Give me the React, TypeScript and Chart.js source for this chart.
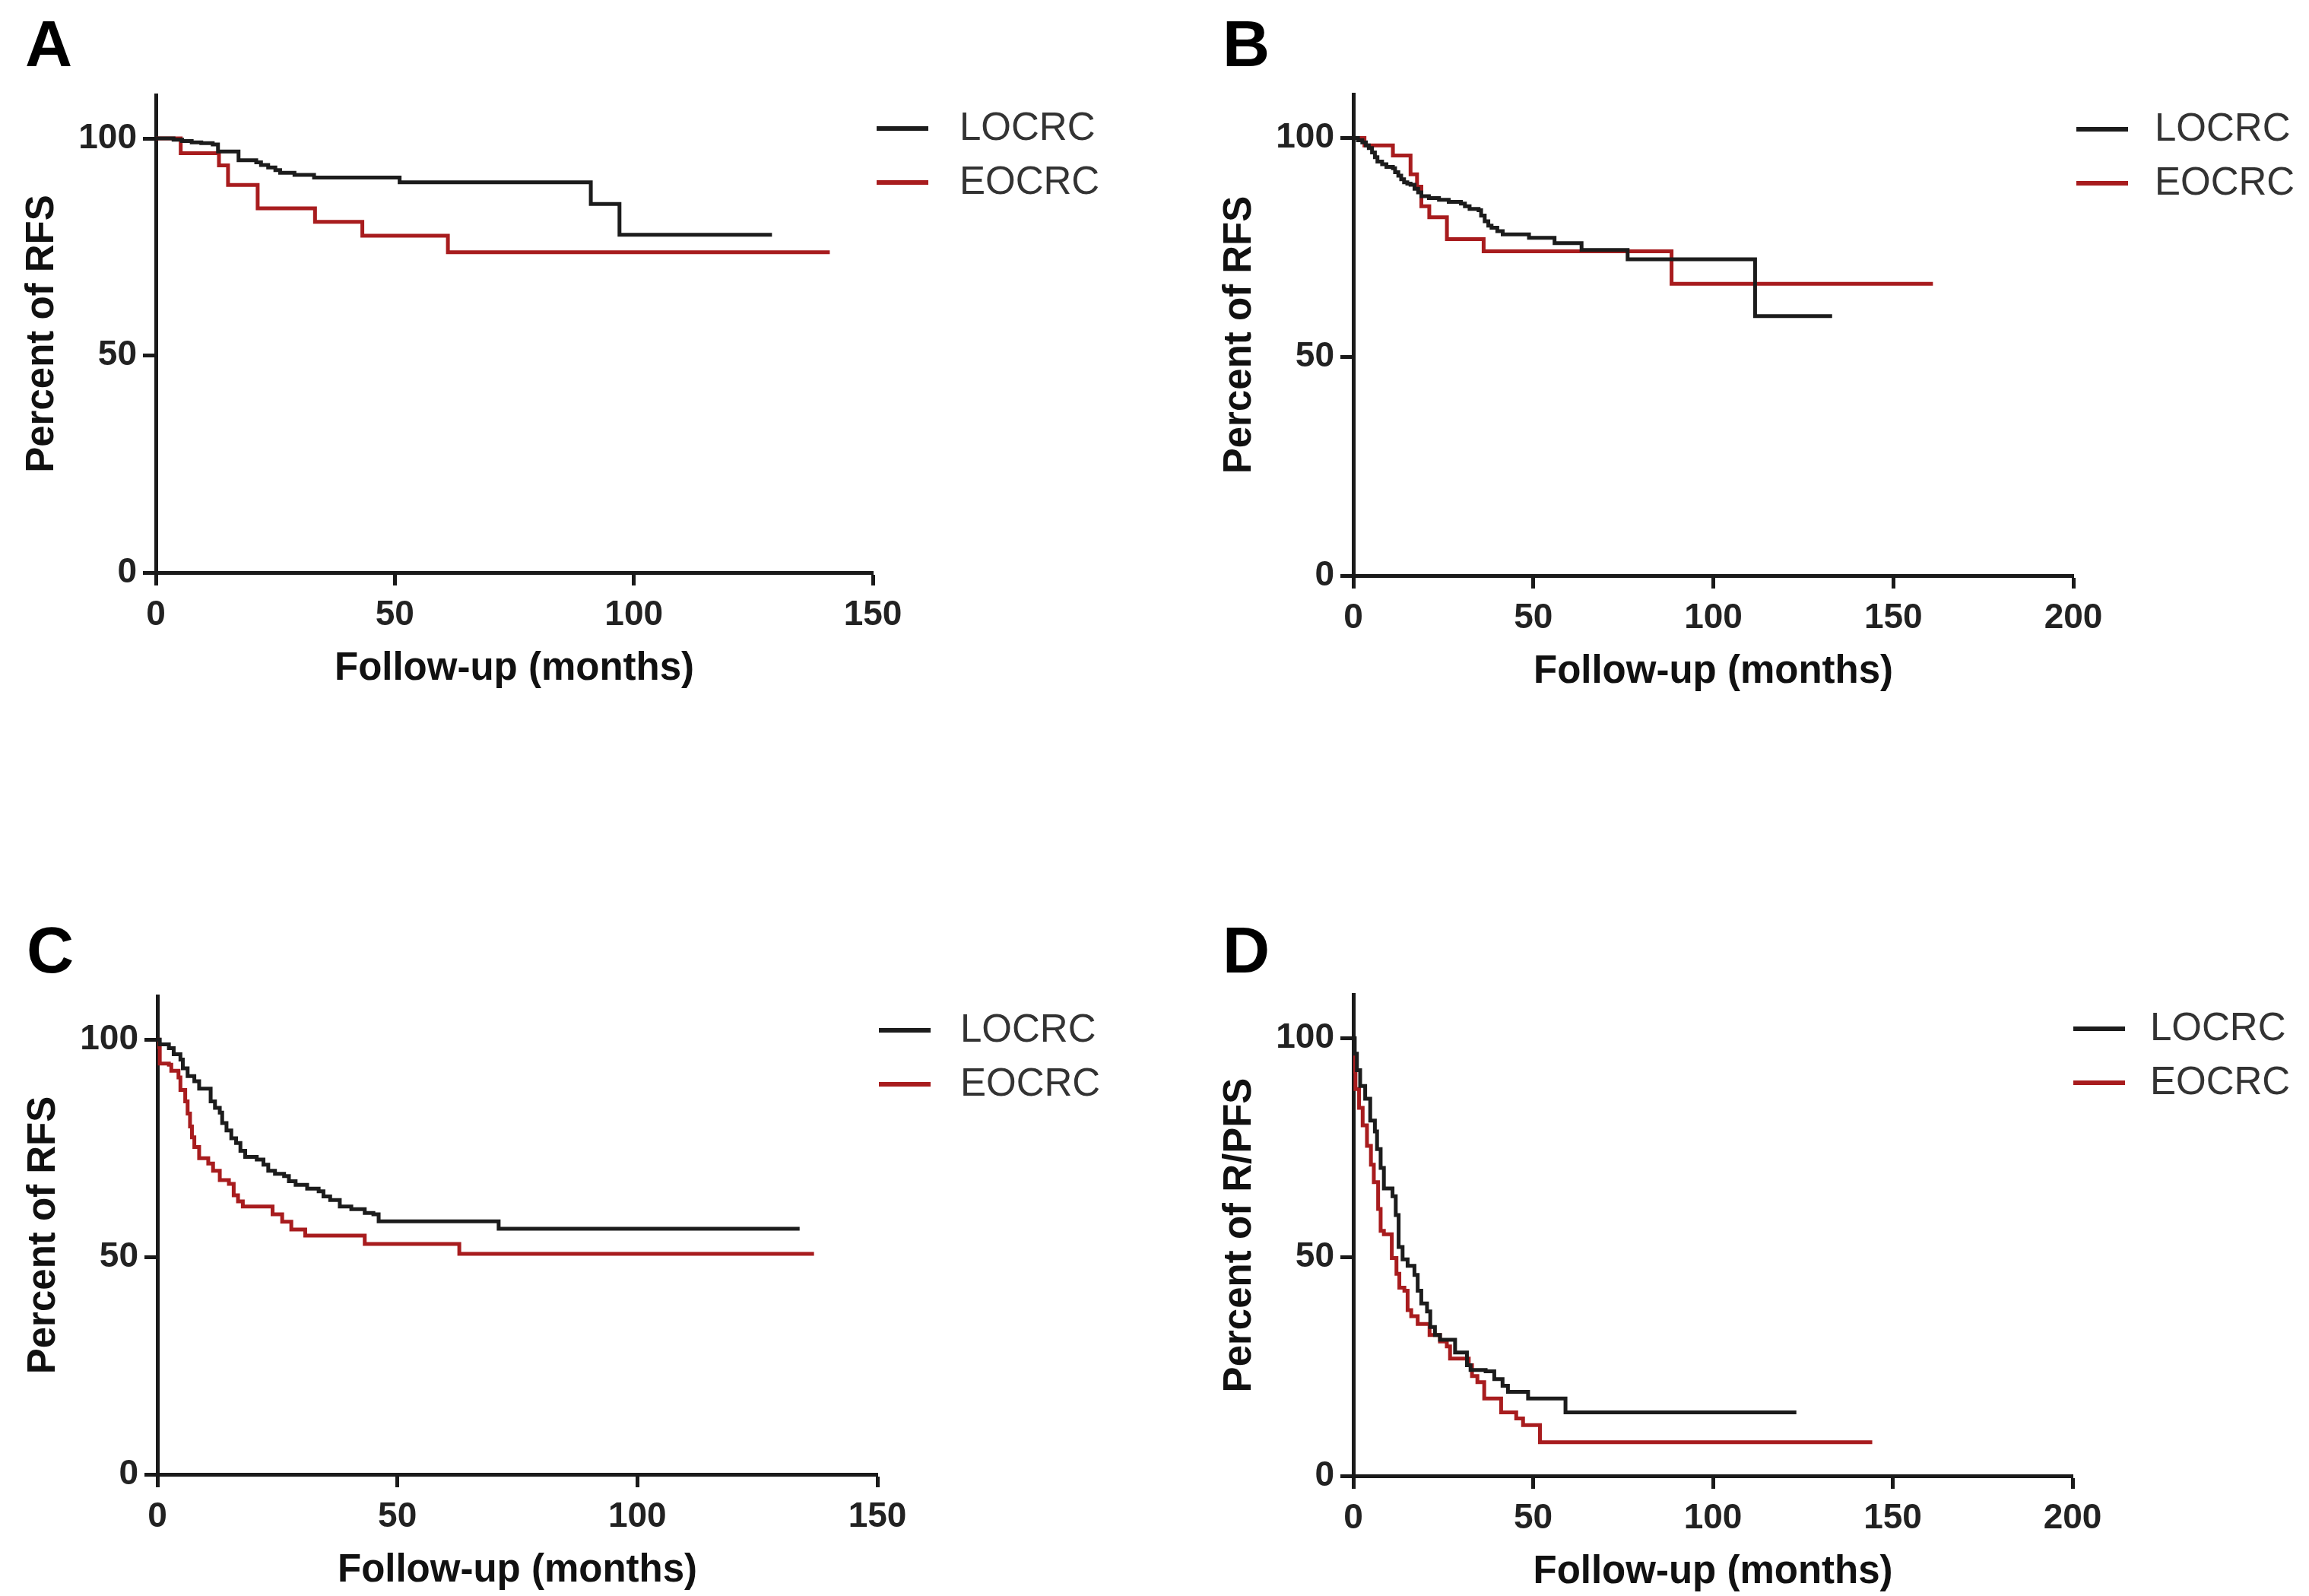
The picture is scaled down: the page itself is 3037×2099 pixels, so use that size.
import { useEffect, useRef } from "react";
import { Chart, registerables } from "chart.js";

Chart.register(...registerables);

// ---------- data ----------
const seriesNames = ["LOCRC", "EOCRC"];
const xTicksShort = [0, 50, 100, 150];
const xTicksLong = [0, 50, 100, 150, 200];
const yTicks = [0, 50, 100];
const xTitle = "Follow-up (months)";
const yTitleRFS = "Percent of RFS";
const yTitleRPFS = "Percent of R/PFS";

// Panel A
const tA_lo = [0, 3.7, 5.5, 7.5, 9.5, 11.9, 13.0, 17.3, 21.0, 22.0, 23.5, 25.0, 26.0, 29.0, 33.1, 51.0, 91.0, 97.0, 128.9];
const sA_lo = [100, 99.7, 99.4, 99.1, 98.9, 98.6, 97.0, 95.0, 94.5, 93.9, 93.3, 92.7, 92.1, 91.6, 91.0, 89.9, 84.9, 77.8, 77.8];
const tA_eo = [0, 5.2, 13.2, 15.1, 21.3, 33.3, 43.2, 61.1, 141.0];
const sA_eo = [100, 96.6, 93.8, 89.3, 83.9, 80.8, 77.6, 73.8, 73.8];

// Panel B
const tB_lo = [0, 1.3, 2.5, 3.5, 4.3, 5.2, 6.0, 6.7, 8.0, 9.2, 11.0, 11.6, 12.5, 13.3, 14.1, 15.0, 15.9, 17.0, 18.0, 18.9, 21.0, 23.8, 26.5, 29.9, 31.0, 32.3, 34.8, 35.5, 36.5, 37.5, 38.4, 40.0, 41.5, 48.8, 55.9, 63.4, 76.2, 111.6, 133.0];
const sB_lo = [100, 99.5, 99.0, 98.3, 97.7, 96.7, 95.6, 94.6, 94.0, 93.4, 93.1, 92.2, 91.4, 90.6, 89.9, 89.6, 89.3, 88.4, 87.6, 86.7, 86.3, 85.9, 85.4, 85.0, 84.4, 83.8, 83.5, 82.3, 81.0, 80.0, 79.5, 78.7, 78.0, 77.2, 76.0, 74.4, 72.3, 59.3, 59.3];
const tB_eo = [0, 3.1, 11.0, 15.9, 17.7, 18.9, 21.1, 26.0, 36.2, 88.4, 161.0];
const sB_eo = [100, 98.3, 96.0, 91.7, 88.9, 84.4, 81.9, 76.9, 74.1, 66.7, 66.7];

// Panel C
const tC_lo = [0, 0.5, 2.4, 3.4, 4.8, 5.3, 6.3, 7.7, 8.7, 11.1, 12.0, 13.0, 13.5, 14.4, 15.4, 16.4, 17.3, 18.3, 20.7, 22.1, 23.1, 24.5, 26.4, 27.4, 28.8, 31.2, 33.6, 34.6, 36.0, 38.0, 40.4, 43.2, 45.0, 46.1, 71.1, 133.8];
const sC_lo = [100, 98.9, 98.0, 96.6, 95.4, 93.4, 91.6, 90.4, 88.7, 85.8, 84.3, 83.2, 80.8, 79.1, 77.3, 76.2, 74.4, 73.0, 72.4, 71.2, 69.8, 69.1, 68.6, 67.4, 66.6, 65.7, 65.1, 63.9, 63.1, 61.6, 61.0, 60.1, 59.8, 58.2, 56.5, 56.5];
const tC_eo = [0, 0.3, 0.5, 2.4, 2.9, 4.4, 4.8, 5.8, 6.3, 6.8, 7.2, 7.7, 8.7, 10.6, 11.6, 13.0, 14.9, 15.9, 16.8, 17.8, 24.0, 26.0, 27.9, 30.8, 43.2, 62.9, 136.8];
const sC_eo = [100, 98.3, 94.5, 94.2, 92.8, 91.3, 88.4, 85.8, 83.0, 80.0, 77.5, 75.3, 72.7, 71.5, 69.8, 67.7, 66.8, 64.2, 62.8, 61.6, 59.8, 58.1, 56.3, 54.9, 53.0, 50.7, 50.7];

// Panel D
const tD_lo = [0, 0.4, 1.0, 1.9, 3.3, 4.7, 6.0, 6.6, 7.6, 8.5, 10.9, 11.8, 12.6, 13.7, 15.1, 17.0, 17.9, 18.9, 20.5, 21.4, 22.7, 24.1, 28.3, 31.6, 32.6, 36.8, 39.2, 41.5, 43.0, 48.6, 59.0, 123.2];
const sD_lo = [100, 96.5, 92.7, 89.1, 86.2, 81.2, 78.7, 74.7, 70.4, 65.7, 63.9, 59.6, 52.3, 49.5, 48.0, 45.9, 42.3, 39.4, 37.6, 34.0, 32.2, 31.1, 28.2, 25.3, 24.2, 23.9, 22.1, 20.6, 19.2, 17.7, 14.5, 14.5];
const tD_eo = [0, 0.2, 0.6, 1.6, 2.6, 3.8, 4.9, 5.7, 6.9, 7.6, 8.5, 10.7, 12.0, 12.8, 14.2, 15.1, 16.1, 17.9, 21.2, 24.1, 26.0, 26.9, 32.1, 33.0, 34.5, 36.4, 41.1, 45.3, 47.2, 51.9, 144.3];
const sD_eo = [100, 92.4, 88.4, 84.1, 80.1, 75.4, 71.1, 67.1, 61.0, 56.0, 55.2, 49.8, 46.2, 43.0, 42.3, 37.9, 36.5, 34.7, 32.2, 30.7, 29.6, 26.8, 25.3, 22.8, 21.4, 17.7, 14.5, 13.1, 11.6, 7.7, 7.7];

// ---------- styling ----------
const FONT = "'Liberation Sans', Arial, Helvetica, sans-serif";
const AXIS = "#1a1a1a";
const LINE_BLACK = "#1c1c1c";
const LINE_RED = "#a81c1e";

type Panel = {
  letter: string;
  yTitle: string;
  xMax: number;
  xTicks: number[];
  lo: [number[], number[]];
  eo: [number[], number[]];
  canvas: { left: number; top: number; width: number; height: number };
  area: { left: number; right: number; top: number; bottom: number }; // page coords
  letterPos: [number, number];
  legendLine: number;
  legendText: number;
  legendY: number;
};

const panels: Panel[] = [
  {
    letter: "A", yTitle: yTitleRFS, xMax: 150, xTicks: xTicksShort,
    lo: [tA_lo, sA_lo], eo: [tA_eo, sA_eo],
    canvas: { left: 0, top: 0, width: 1500, height: 1000 },
    area: { left: 205, right: 1148, top: 125, bottom: 753 },
    letterPos: [33, 87], legendLine: 1153, legendText: 1262, legendY: 169,
  },
  {
    letter: "B", yTitle: yTitleRFS, xMax: 200, xTicks: xTicksLong,
    lo: [tB_lo, sB_lo], eo: [tB_eo, sB_eo],
    canvas: { left: 1575, top: 0, width: 1462, height: 1000 },
    area: { left: 1780, right: 2727, top: 124, bottom: 757 },
    letterPos: [1608, 87], legendLine: 2731, legendText: 2834, legendY: 170,
  },
  {
    letter: "C", yTitle: yTitleRFS, xMax: 150, xTicks: xTicksShort,
    lo: [tC_lo, sC_lo], eo: [tC_eo, sC_eo],
    canvas: { left: 2, top: 1150, width: 1500, height: 949 },
    area: { left: 207, right: 1154, top: 1310, bottom: 1939 },
    letterPos: [35, 1279], legendLine: 1156, legendText: 1263, legendY: 1355,
  },
  {
    letter: "D", yTitle: yTitleRPFS, xMax: 200, xTicks: xTicksLong,
    lo: [tD_lo, sD_lo], eo: [tD_eo, sD_eo],
    canvas: { left: 1575, top: 1150, width: 1462, height: 949 },
    area: { left: 1780, right: 2726, top: 1308, bottom: 1941 },
    letterPos: [1608, 1279], legendLine: 2727, legendText: 2828, legendY: 1353,
  },
];

const X_SCALE_H = 158;

const decoPlugin = {
  id: "deco",
  afterDraw(chart: any, _args: any, opts: any) {
    const ctx = chart.ctx as CanvasRenderingContext2D;
    ctx.save();
    ctx.fillStyle = "#000";
    ctx.font = `bold 86px ${FONT}`;
    ctx.textAlign = "left";
    ctx.textBaseline = "alphabetic";
    ctx.fillText(opts.letter, opts.letterX, opts.letterY);
    chart.data.datasets.forEach((ds: any, i: number) => {
      const y = opts.legendY + i * 71;
      ctx.strokeStyle = ds.borderColor;
      ctx.lineWidth = 6;
      ctx.lineCap = "butt";
      ctx.beginPath();
      ctx.moveTo(opts.lineX, y);
      ctx.lineTo(opts.lineX + 68, y);
      ctx.stroke();
      ctx.fillStyle = "#333";
      ctx.font = `51px ${FONT}`;
      ctx.textBaseline = "middle";
      ctx.fillText(ds.label, opts.textX, y + 1);
    });
    ctx.restore();
  },
};

function toPoints(t: number[], s: number[]) {
  return t.map((x, i) => ({ x, y: s[i] }));
}

function KMPanel({ p }: { p: Panel }) {
  const ref = useRef<HTMLCanvasElement | null>(null);
  useEffect(() => {
    if (!ref.current) return;
    const c = p.canvas;
    const padTop = p.area.top - c.top;
    const padLeft = 0;
    const yScaleW = p.area.left - c.left;
    const padRight = c.left + c.width - p.area.right;
    const padBottom = Math.max(0, c.top + c.height - (p.area.bottom + X_SCALE_H));
    const chart = new Chart(ref.current, {
      type: "line",
      data: {
        datasets: [
          {
            label: seriesNames[0],
            data: toPoints(p.lo[0], p.lo[1]),
            borderColor: LINE_BLACK,
            backgroundColor: LINE_BLACK,
            borderWidth: 5,
            pointRadius: 0,
            stepped: true,
            fill: false,
          },
          {
            label: seriesNames[1],
            data: toPoints(p.eo[0], p.eo[1]),
            borderColor: LINE_RED,
            backgroundColor: LINE_RED,
            borderWidth: 5,
            pointRadius: 0,
            stepped: true,
            fill: false,
          },
        ],
      },
      options: {
        animation: false,
        responsive: false,
        devicePixelRatio: 1,
        layout: { padding: { left: padLeft, top: padTop, right: padRight, bottom: padBottom } },
        plugins: {
          legend: { display: false },
          tooltip: { enabled: false },
          // @ts-ignore
          deco: {
            letter: p.letter,
            letterX: p.letterPos[0] - c.left,
            letterY: p.letterPos[1] - c.top,
            lineX: p.legendLine - c.left,
            textX: p.legendText - c.left,
            legendY: p.legendY - c.top,
          },
        },
        scales: {
          x: {
            type: "linear",
            min: 0,
            max: p.xMax,
            afterBuildTicks: (s: any) => {
              s.ticks = p.xTicks.map((v) => ({ value: v }));
            },
            afterFit: (s: any) => {
              s.height = X_SCALE_H;
            },
            grid: { drawOnChartArea: false, drawTicks: true, tickLength: 17, tickWidth: 5, tickColor: AXIS },
            border: { display: true, width: 5, color: AXIS },
            ticks: { font: { family: FONT, size: 46, weight: "bold" }, color: "#222", padding: 12, maxRotation: 0, autoSkip: false },
            title: {
              display: true,
              text: xTitle,
              color: "#111",
              font: { family: FONT, size: 51, weight: "bold" },
              padding: { top: 0, bottom: 0 },
            },
          },
          y: {
            type: "linear",
            min: 0,
            max: 110,
            afterBuildTicks: (s: any) => {
              s.ticks = yTicks.map((v) => ({ value: v }));
            },
            afterFit: (s: any) => {
              s.width = yScaleW;
            },
            grid: { drawOnChartArea: false, drawTicks: true, tickLength: 17, tickWidth: 5, tickColor: AXIS },
            border: { display: true, width: 5, color: AXIS },
            ticks: { font: { family: FONT, size: 46, weight: "bold" }, color: "#222", padding: 8, autoSkip: false },
            title: {
              display: true,
              text: p.yTitle,
              color: "#111",
              font: { family: FONT, size: 51, weight: "bold" },
              padding: { top: 25, bottom: 0 },
            },
          },
        },
      },
      plugins: [decoPlugin as any],
    } as any);
    return () => chart.destroy();
  }, [p]);
  const c = p.canvas;
  return (
    <canvas
      ref={ref}
      width={c.width}
      height={c.height}
      style={{ position: "absolute", left: c.left, top: c.top, width: c.width, height: c.height }}
    />
  );
}

export default function App() {
  return (
    <div style={{ position: "fixed", left: 0, top: 0, width: 3037, height: 2099, background: "#fff", overflow: "hidden" }}>
      {panels.map((p) => (
        <KMPanel key={p.letter} p={p} />
      ))}
    </div>
  );
}
